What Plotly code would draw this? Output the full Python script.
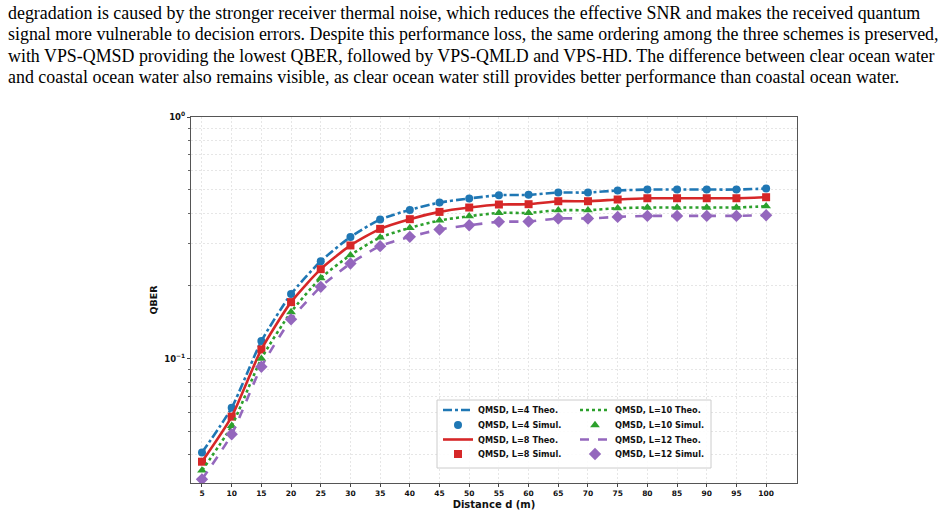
import plotly.graph_objects as go

distance = [5, 10, 15, 20, 25, 30, 35, 40, 45, 50, 55, 60, 65, 70, 75, 80, 85, 90, 95, 100]
qber_L4 = [0.0409, 0.0627, 0.1183, 0.1851, 0.2533, 0.3190, 0.3767, 0.4128, 0.4428, 0.4603,
           0.4747, 0.4763, 0.4870, 0.4870, 0.4965, 0.5011, 0.5011, 0.5011, 0.5011, 0.5059]
qber_L8 = [0.0375, 0.0576, 0.1093, 0.1715, 0.2347, 0.2942, 0.3445, 0.3779, 0.4050, 0.4222,
           0.4345, 0.4358, 0.4484, 0.4484, 0.4557, 0.4613, 0.4613, 0.4613, 0.4613, 0.4658]
qber_L10 = [0.0345, 0.0528, 0.1000, 0.1560, 0.2156, 0.2683, 0.3175, 0.3477, 0.3732, 0.3887,
            0.4012, 0.4012, 0.4117, 0.4117, 0.4195, 0.4223, 0.4223, 0.4223, 0.4223, 0.4276]
qber_L12 = [0.0317, 0.0487, 0.0927, 0.1455, 0.1984, 0.2478, 0.2922, 0.3193, 0.3424, 0.3568,
            0.3683, 0.3697, 0.3804, 0.3804, 0.3862, 0.3899, 0.3899, 0.3899, 0.3899, 0.3924]
x_ticks = list(range(5, 101, 5))

paragraph = [
    "degradation is caused by the stronger receiver thermal noise, which reduces the effective SNR and makes the received quantum",
    "signal more vulnerable to decision errors. Despite this performance loss, the same ordering among the three schemes is preserved,",
    "with VPS-QMSD providing the lowest QBER, followed by VPS-QMLD and VPS-HD. The difference between clear ocean water",
    "and coastal ocean water also remains visible, as clear ocean water still provides better performance than coastal ocean water.",
]

W, H = 947, 514
L, R, T, B = 191, 797, 117, 483

def px(x):
    return (x - L) / (R - L)

def py(y):
    return (B - y) / (B - T)

# name, values, colour, dash, marker symbol, marker size, legend column x, theo row y, simul row y
series = [
    ("4", qber_L4, "#1f77b4", "dashdot", "circle", 8, 438, 410, 425),
    ("8", qber_L8, "#d62728", "solid", "square", 8, 438, 439.5, 454),
    ("10", qber_L10, "#2ca02c", "dot", "triangle-up", 8.5, 575, 410, 425),
    ("12", qber_L12, "#9467bd", "dash", "diamond", 9.5, 575, 439.5, 454),
]

fig = go.Figure()
leg_font = dict(family="DejaVu Sans", size=8.2, color="#111", weight="bold")
legends = {}
k = 0
for name, vals, col, dash, sym, ms, lx, ty, sy in series:
    k += 1
    lt = "legend" if k == 1 else f"legend{k}"
    legends[lt] = dict(x=px(lx), y=py(ty), xanchor="left", yanchor="middle",
                       bgcolor="rgba(0,0,0,0)", font=leg_font, itemwidth=30)
    fig.add_trace(go.Scatter(
        x=distance, y=vals, mode="lines", name=f"QMSD, L={name} Theo.",
        line=dict(color=col, dash=dash, width=2.6, shape="spline", smoothing=0.6),
        legend=lt,
    ))
    k += 1
    ls = f"legend{k}"
    legends[ls] = dict(x=px(lx), y=py(sy), xanchor="left", yanchor="middle",
                       bgcolor="rgba(0,0,0,0)", font=leg_font, itemwidth=30)
    fig.add_trace(go.Scatter(
        x=distance, y=vals, mode="markers", name=f"QMSD, L={name} Simul.",
        marker=dict(color=col, symbol=sym, size=ms),
        legend=ls,
    ))

grid_col = "#e6e6e6"
gdash = "2px,2px"
minor_vals = [0.04, 0.05, 0.06, 0.07, 0.08, 0.09, 0.2, 0.3, 0.4, 0.5, 0.6, 0.7, 0.8, 0.9]

fig.update_xaxes(
    range=[3.15, 105.2], tickvals=x_ticks, ticks="outside", ticklen=3, tickcolor="#444",
    showline=True, linecolor="#555", linewidth=1.2, mirror=True, automargin=False,
    showgrid=True, gridcolor=grid_col, griddash=gdash, gridwidth=1, zeroline=False,
    tickfont=dict(family="DejaVu Sans", size=7.5, color="#111", weight="bold"),
    title=dict(text="Distance d (m)", font=dict(family="DejaVu Sans", size=10, color="#111", weight="bold"), standoff=3),
)
fig.update_yaxes(
    type="log", range=[-1.514, 0.0], tickvals=[0.1, 1], ticktext=["10<sup>−1</sup>", "10<sup>0</sup>"],
    ticks="outside", ticklen=3, tickcolor="#444", automargin=False,
    showline=True, linecolor="#555", linewidth=1.2, mirror=True,
    showgrid=True, gridcolor=grid_col, griddash=gdash, gridwidth=1, zeroline=False,
    minor=dict(tickvals=minor_vals, ticks="outside", ticklen=2, tickcolor="#666",
               showgrid=True, gridcolor=grid_col, griddash=gdash, gridwidth=1),
    tickfont=dict(family="DejaVu Sans", size=8.5, color="#111", weight="bold"),
    title=dict(text="QBER", font=dict(family="DejaVu Sans", size=9.5, color="#111", weight="bold"), standoff=4),
)

fig.update_layout(
    width=W, height=H,
    margin=dict(l=L, r=W - R, t=T, b=H - B, autoexpand=False),
    paper_bgcolor="white", plot_bgcolor="white",
    showlegend=True,
    shapes=[dict(type="rect", xref="paper", yref="paper", x0=px(437), x1=px(711), y0=py(468), y1=py(400),
                 line=dict(color="#cccccc", width=1), fillcolor="rgba(255,255,255,0.85)", layer="above")],
    **legends,
)

line_y = [13, 34.5, 56, 77.5]
for txt, yy in zip(paragraph, line_y):
    fig.add_annotation(
        text=txt, xref="paper", yref="paper", x=px(6), y=py(yy), xanchor="left", yanchor="middle",
        showarrow=False, font=dict(family="Liberation Serif", size=17.9, color="black"),
    )

fig.write_html("out.html")
